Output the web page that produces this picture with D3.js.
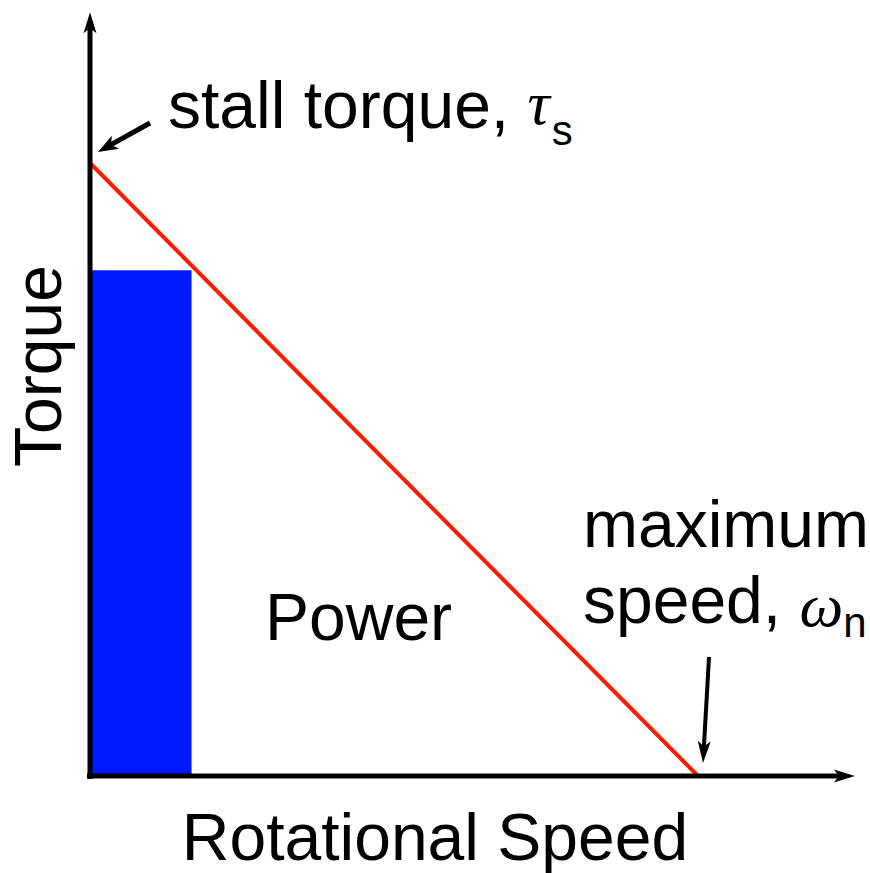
<!DOCTYPE html>
<html>
<head>
<meta charset="utf-8">
<script src="https://cdn.jsdelivr.net/npm/d3@7/dist/d3.min.js"></script>
<style>
  html, body { margin: 0; padding: 0; background: #fff; }
  svg { display: block; }
  text { font-family: "Liberation Sans", Arial, Helvetica, sans-serif; fill: #000; }
  .greek { font-family: "Liberation Serif", "Times New Roman", serif; font-style: italic; }
</style>
</head>
<body>
<svg id="chart" width="870" height="873"></svg>
<script>
// Motor torque–speed characteristic (normalised units)
const curveSpeed = [0, 1];          // rotational speed, fraction of no-load speed
const curveTorque = [1, 0];         // torque, fraction of stall torque
const opSpeed = [0.167];            // operating point speed (power rectangle)
const opTorque = [0.825];           // operating point torque
const axisMax = { speed: 1.258, torque: 1.246 };

const axisTitles = { x: "Rotational Speed", y: "Torque" };
const stallLabel = { text: "stall torque, ", sym: "\u03C4", sub: "s" };
const speedLabel = { line1: "maximum", text: "speed, ", sym: "\u03C9", sub: "n" };
const regionLabel = "Power";

const svg = d3.select("#chart");

const x = d3.scaleLinear().domain([0, 1]).range([90, 698]);
const y = d3.scaleLinear().domain([0, 1]).range([776, 163]);

// filled arrow with a notched head, tip at (x2, y2)
function arrow(g, x1, y1, x2, y2, w, headLen, headW) {
  const ang = Math.atan2(y2 - y1, x2 - x1) * 180 / Math.PI;
  const len = Math.hypot(x2 - x1, y2 - y1);
  const a = g.append("g").attr("transform", `translate(${x2},${y2}) rotate(${ang})`);
  a.append("line")
    .attr("x1", -len).attr("y1", 0).attr("x2", -headLen * 0.7).attr("y2", 0)
    .attr("stroke", "#000").attr("stroke-width", w);
  a.append("path")
    .attr("d", `M0,0 L${-headLen},${-headW / 2} L${-headLen * 0.75},0 L${-headLen},${headW / 2} Z`)
    .attr("fill", "#000");
}

// power rectangle at the operating point
svg.selectAll("rect.power")
  .data(opSpeed.map((s, i) => ({ s, t: opTorque[i] })))
  .join("rect")
  .attr("class", "power")
  .attr("x", x(0))
  .attr("y", d => y(d.t))
  .attr("width", d => x(d.s) - x(0))
  .attr("height", d => y(0) - y(d.t))
  .attr("fill", "#0018ff");

// torque–speed line
const pts = curveSpeed.map((s, i) => [x(s), y(curveTorque[i])]);
svg.append("path")
  .attr("d", d3.line()(pts))
  .attr("fill", "none")
  .attr("stroke", "#ff1a00")
  .attr("stroke-width", 4);

// axes
const axes = svg.append("g");
arrow(axes, x(0), y(0) + 3, x(0), y(axisMax.torque), 5, 21, 13);
arrow(axes, x(0) - 3, y(0), x(axisMax.speed), y(0), 5, 21, 13);

// annotations
const ann = svg.append("g");
arrow(ann, x(0) + 60, y(1) - 40, x(0) + 8, y(1) - 11, 5, 20, 15);
arrow(ann, x(1) + 11, y(0) - 119, x(1) + 5, y(0) - 13, 4, 22, 13);

const fs = 66;

const t1 = svg.append("text")
  .attr("x", 168).attr("y", 128)
  .attr("font-size", fs);
t1.append("tspan").text(stallLabel.text);
t1.append("tspan").attr("class", "greek").attr("font-size", 62).attr("dy", -4).text(stallLabel.sym);
t1.append("tspan").attr("font-size", 42).attr("dx", 2).attr("dy", 21).text(stallLabel.sub);

svg.append("text")
  .attr("x", 583).attr("y", 547)
  .attr("font-size", fs)
  .text(speedLabel.line1);

const t2 = svg.append("text")
  .attr("x", 583).attr("y", 623)
  .attr("font-size", fs);
t2.append("tspan").text(speedLabel.text);
t2.append("tspan").attr("class", "greek").attr("font-size", 62).attr("dy", 3).text(speedLabel.sym);
t2.append("tspan").attr("font-size", 42).attr("dy", 11).text(speedLabel.sub);

svg.append("text")
  .attr("x", 265).attr("y", 640)
  .attr("font-size", fs)
  .text(regionLabel);

svg.append("text")
  .attr("x", 435).attr("y", 860)
  .attr("text-anchor", "middle")
  .attr("font-size", fs)
  .text(axisTitles.x);

svg.append("text")
  .attr("transform", "translate(61,366) rotate(-90)")
  .attr("text-anchor", "middle")
  .attr("font-size", fs)
  .text(axisTitles.y);
</script>
</body>
</html>
